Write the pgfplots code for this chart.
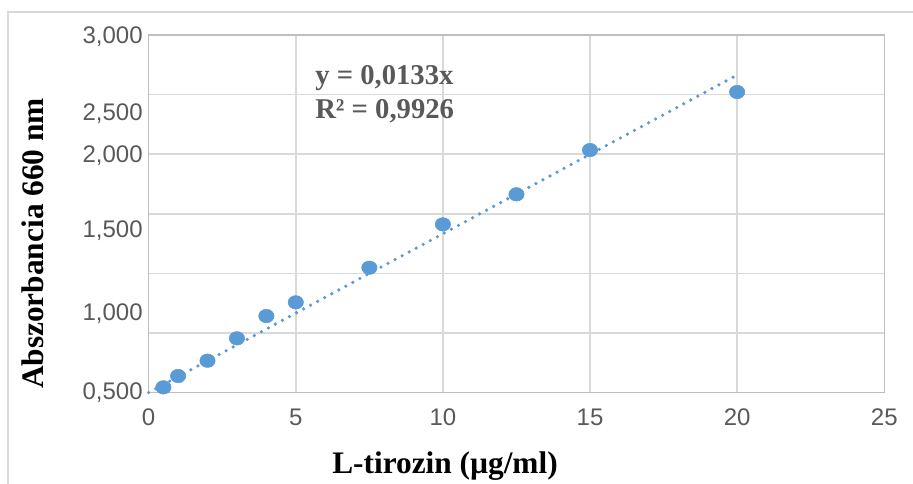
\documentclass[border=0pt]{standalone}
\usepackage{pgfplots}
\pgfplotsset{compat=1.18}
\usepackage{fontspec}
\setmainfont{Liberation Serif}
\newfontfamily\arial{Liberation Sans}
\definecolor{ptblue}{HTML}{5B9BD5}
\definecolor{gridgray}{HTML}{D9D9D9}
\definecolor{axgray}{HTML}{BFBFBF}
\definecolor{txtgray}{HTML}{595959}
\begin{document}
\begin{tikzpicture}[x=1pt,y=1pt]
\useasboundingbox (0,0) rectangle (684.75,363);
\draw[gridgray, line width=0.9pt] (6,0) -- (6,354) -- (690,354);
\begin{axis}[
  at={(111.5pt,68.6pt)}, anchor=south west,
  scale only axis, width=551.7pt, height=268.1pt,
  xmin=0, xmax=25, ymin=0, ymax=6,
  xtick={0,5,10,15,20,25},
  ytick={0,1.32,2.72,3.98,4.68,5.97},
  yticklabels={{0,500},{1,000},{1,500},{2,000},{2,500},{3,000}},
  extra y ticks={1,2,3,4,5},
  extra y tick labels={},
  extra y tick style={ymajorgrids=true, major tick length=0pt},
  major tick length=0pt,
  xmajorgrids=true, ymajorgrids=false,
  grid style={gridgray, line width=1.1pt},
  axis line style={axgray, line width=1.1pt},
  /pgf/number format/assume math mode=true,
  tick label style={font=\arial\fontsize{18}{20}\selectfont, text=txtgray},
  xticklabel style={yshift=-8.5pt},
  yticklabel style={xshift=-1pt},
  clip=false,
]
\addplot[ptblue, line width=2.7pt, line cap=round, dash pattern=on 0pt off 6pt, forget plot]
  coordinates {(0,0) (20,5.33)};
\addplot[only marks, mark=*, mark size=5.5pt, ptblue, mark options={draw=ptblue, fill=ptblue, xscale=1.05, yscale=0.92}]
  coordinates {
  (0.5,0.087) (1,0.277) (2,0.534) (3,0.910) (4,1.284) (5,1.514)
  (7.5,2.095) (10,2.823) (12.5,3.327) (15,4.070) (20,5.044)
  };
\end{axis}
\node[anchor=base west, text=txtgray, font=\bfseries\fontsize{21.5}{24}\selectfont, inner sep=0pt] at (236.25,299.8) {y = 0,0133x};
\node[anchor=base west, text=txtgray, font=\bfseries\fontsize{21.5}{24}\selectfont, inner sep=0pt] at (236.25,274.3) {R² = 0,9926};
\node[anchor=base, font=\bfseries\fontsize{23.5}{26}\selectfont, inner sep=0pt] at (333.75,8.0) {L-tirozin (µg/ml)};
\node[anchor=base, rotate=90, font=\bfseries\fontsize{23.5}{26}\selectfont, inner sep=0pt] at (32.25,180.4) {Abszorbancia 660 nm};
\end{tikzpicture}
\end{document}
